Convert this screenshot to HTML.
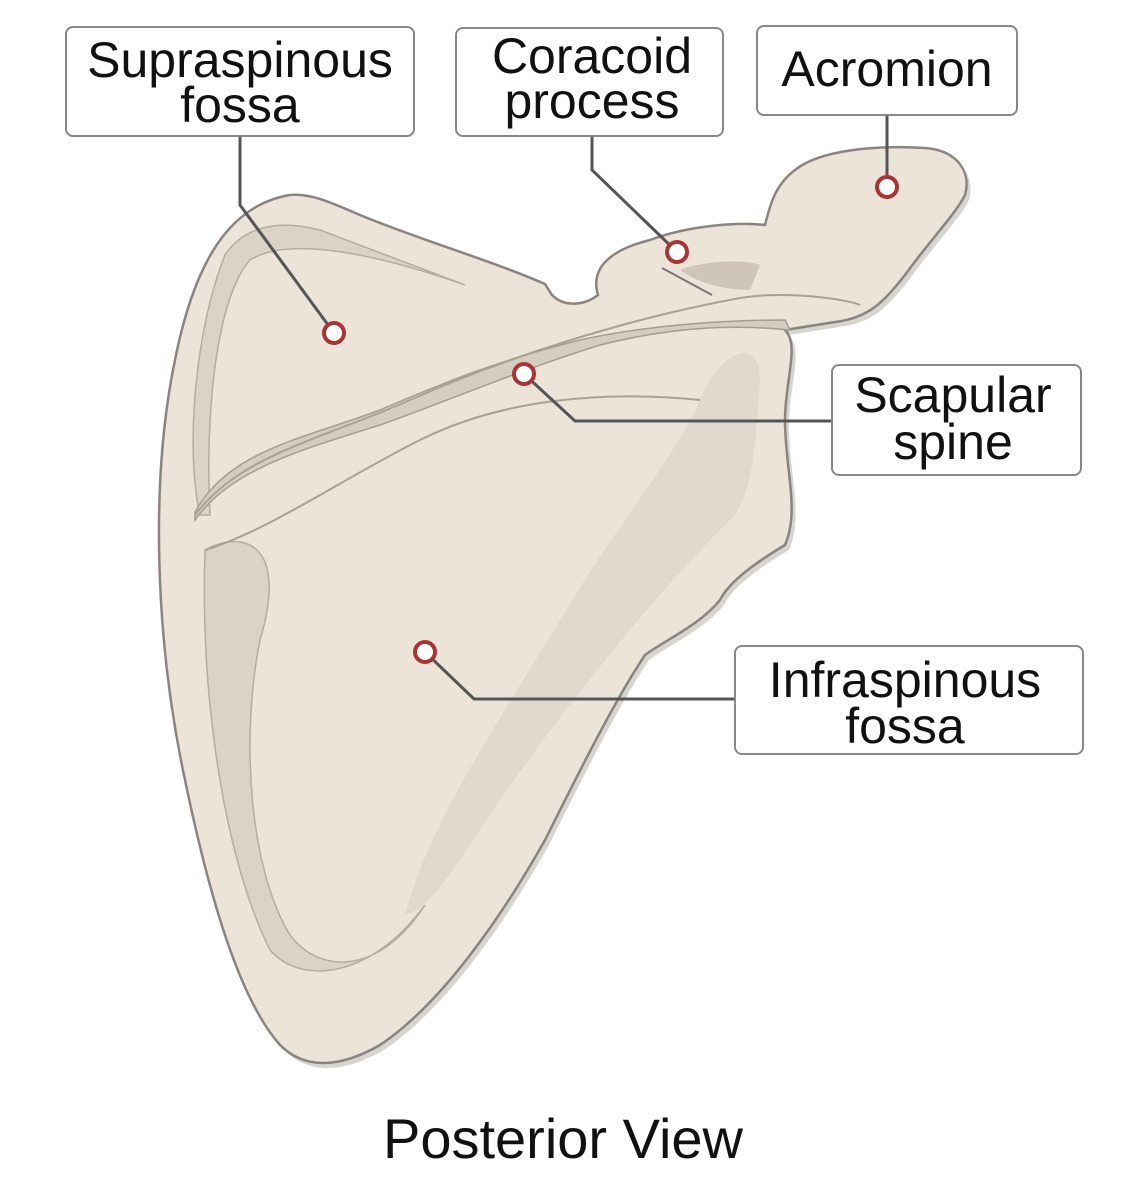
<!DOCTYPE html>
<html><head><meta charset="utf-8"><style>
body{margin:0;background:#fff;}
svg{display:block}
text{font-family:"Liberation Sans",sans-serif;fill:#111}
</style></head><body>
<svg width="1125" height="1200" viewBox="0 0 1125 1200">
<path d="M290,195 C230,205 195,260 175,360 C150,480 155,640 185,780 C210,900 240,1000 280,1045 C305,1070 340,1068 380,1045 C440,1005 500,920 545,840 C580,770 615,700 645,655 C665,640 700,625 720,600 C730,580 760,560 785,545 C800,510 785,470 785,420 C785,380 800,345 785,330 L835,322 C870,318 885,300 905,275 C930,240 955,215 965,195 C972,170 955,150 925,148 C875,145 820,150 795,170 C775,185 770,205 765,225 C740,222 690,225 650,240 C610,250 590,268 598,295 C585,305 565,308 552,295 L545,284 C490,260 420,240 360,215 C330,202 310,193 290,195 Z" fill="#d8d4cf" transform="translate(4,5)"/>
<path d="M290,195 C230,205 195,260 175,360 C150,480 155,640 185,780 C210,900 240,1000 280,1045 C305,1070 340,1068 380,1045 C440,1005 500,920 545,840 C580,770 615,700 645,655 C665,640 700,625 720,600 C730,580 760,560 785,545 C800,510 785,470 785,420 C785,380 800,345 785,330 L835,322 C870,318 885,300 905,275 C930,240 955,215 965,195 C972,170 955,150 925,148 C875,145 820,150 795,170 C775,185 770,205 765,225 C740,222 690,225 650,240 C610,250 590,268 598,295 C585,305 565,308 552,295 L545,284 C490,260 420,240 360,215 C330,202 310,193 290,195 Z" fill="#ece4d9" stroke="#8a8480" stroke-width="2.5"/>
<path d="M200,515 C185,450 195,330 225,255 C245,225 280,220 320,230 L465,285 C380,255 290,235 250,260 C215,300 205,420 210,515 Z" fill="#dcd3c7" stroke="#b5aca2" stroke-width="1.5"/>
<path d="M205,550 C240,530 290,540 260,640 C240,740 250,870 290,935 C320,975 380,975 425,905 C370,980 300,985 270,950 C225,860 200,700 205,550 Z" fill="#dcd3c7" stroke="#b5aca2" stroke-width="1.5"/>
<path d="M700,400 C720,350 760,335 760,380 C755,460 750,500 730,520 C650,600 570,700 500,800 C460,860 430,910 405,915 C430,820 500,720 560,620 C620,520 680,450 700,400 Z" fill="#e0d7cb" opacity="0.9"/>
<path d="M680,270 C700,262 740,258 760,265 L750,290 C730,290 700,285 680,270 Z" fill="#cfc5b8"/>
<path d="M195,520 C230,470 300,450 380,425 C450,400 520,370 600,345 C680,325 740,325 790,330 L785,320 C720,320 650,325 580,340 C500,360 450,380 380,410 C300,440 230,450 195,512 Z" fill="#d6cdc1" stroke="#a59c92" stroke-width="1.5"/>
<path d="M195,515 C240,455 320,440 410,400 C500,360 620,320 740,298 C790,290 850,300 860,305" fill="none" stroke="#aaa196" stroke-width="2"/>
<path d="M205,550 C270,530 340,480 420,440 C500,400 600,390 700,400" fill="none" stroke="#aaa196" stroke-width="2"/>
<line x1="662" y1="268" x2="712" y2="295" stroke="#777" stroke-width="2"/>
<g fill="none" stroke="#555" stroke-width="3">
<polyline points="240,136 240,205 334,333"/>
<polyline points="592,136 592,170 677,252"/>
<polyline points="887,115 887,187"/>
<polyline points="832,421 575,421 524,374"/>
<polyline points="735,699 474,699 425,652"/>
</g>
<g fill="#fff" stroke="#a33" stroke-width="4">
<circle cx="334" cy="333" r="10"/><circle cx="677" cy="252" r="10"/><circle cx="887" cy="187" r="10"/><circle cx="524" cy="374" r="10"/><circle cx="425" cy="652" r="10"/>
</g>
<g fill="#fff" stroke="#888" stroke-width="2">
<rect x="66" y="27" width="348" height="109" rx="7"/>
<rect x="456" y="28" width="267" height="108" rx="7"/>
<rect x="757" y="26" width="260" height="89" rx="7"/>
<rect x="832" y="365" width="249" height="110" rx="7"/>
<rect x="735" y="646" width="348" height="108" rx="7"/>
</g>
<g font-size="50" text-anchor="middle">
<text x="240" y="77">Supraspinous</text><text x="240" y="122">fossa</text>
<text x="592" y="73">Coracoid</text><text x="592" y="118">process</text>
<text x="887" y="86">Acromion</text>
<text x="953" y="412">Scapular</text><text x="953" y="459">spine</text>
<text x="905" y="697">Infraspinous</text><text x="905" y="743">fossa</text>
<text x="563" y="1158" font-size="56">Posterior View</text>
</g>
</svg>
</body></html>
